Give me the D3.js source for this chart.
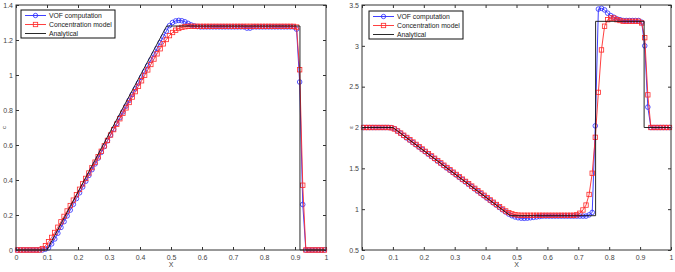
<!DOCTYPE html>
<html>
<head>
<meta charset="utf-8">
<script src="https://cdn.jsdelivr.net/npm/d3@7"></script>
<style>
  body { margin: 0; background: #fff; }
  svg { display: block; font-family: "Liberation Sans", Arial, sans-serif; }
</style>
</head>
<body>
<svg width="675" height="272"></svg>
<script>
// cell centres shared by both panels
const xGrid = [0.005,0.015,0.025,0.035,0.045,0.055,0.065,0.075,0.085,0.095,
  0.105,0.115,0.125,0.135,0.145,0.155,0.165,0.175,0.185,0.195,
  0.205,0.215,0.225,0.235,0.245,0.255,0.265,0.275,0.285,0.295,
  0.305,0.315,0.325,0.335,0.345,0.355,0.365,0.375,0.385,0.395,
  0.405,0.415,0.425,0.435,0.445,0.455,0.465,0.475,0.485,0.495,
  0.505,0.515,0.525,0.535,0.545,0.555,0.565,0.575,0.585,0.595,
  0.605,0.615,0.625,0.635,0.645,0.655,0.665,0.675,0.685,0.695,
  0.705,0.715,0.725,0.735,0.745,0.755,0.765,0.775,0.785,0.795,
  0.805,0.815,0.825,0.835,0.845,0.855,0.865,0.875,0.885,0.895,
  0.905,0.915,0.925,0.935,0.945,0.955,0.965,0.975,0.985,0.995];

// left panel
const leftVof = [0,0,0,0,0,0,0,0,0,0.005,
  0.012,0.035,0.063,0.096,0.129,0.162,0.195,0.228,0.261,0.294,
  0.327,0.360,0.393,0.426,0.459,0.492,0.525,0.558,0.591,0.624,
  0.657,0.690,0.723,0.756,0.789,0.822,0.855,0.888,0.921,0.954,
  0.987,1.020,1.053,1.086,1.119,1.152,1.185,1.218,1.250,1.282,
  1.300,1.309,1.312,1.310,1.304,1.295,1.286,1.280,1.277,1.275,
  1.275,1.275,1.275,1.275,1.275,1.275,1.275,1.275,1.275,1.275,
  1.275,1.275,1.275,1.275,1.268,1.268,1.275,1.275,1.275,1.275,
  1.275,1.275,1.275,1.275,1.275,1.275,1.275,1.275,1.275,1.275,
  1.262,0.96,0.26,0,0,0,0,0,0,0];
const leftConc = [0,0,0,0,0,0,0,0,0.008,0.025,
  0.047,0.072,0.100,0.130,0.161,0.192,0.223,0.254,0.285,0.316,
  0.347,0.378,0.409,0.440,0.471,0.502,0.533,0.564,0.595,0.626,
  0.657,0.688,0.719,0.750,0.781,0.812,0.843,0.874,0.905,0.936,
  0.967,0.998,1.029,1.060,1.091,1.121,1.150,1.178,1.203,1.225,
  1.243,1.256,1.266,1.272,1.276,1.278,1.278,1.278,1.278,1.278,
  1.278,1.278,1.278,1.278,1.278,1.278,1.278,1.278,1.278,1.278,
  1.278,1.278,1.278,1.278,1.278,1.278,1.278,1.278,1.278,1.278,
  1.278,1.278,1.278,1.278,1.278,1.278,1.278,1.278,1.278,1.278,
  1.274,1.03,0.37,0,0,0,0,0,0,0];
const leftExactX = [0, 0.1, 0.486, 0.916, 0.916, 1];
const leftExactY = [0, 0, 1.28, 1.28, 0, 0];

// right panel
const rightVof = [2,2,2,2,2,2,2,2,2,1.998,
  1.985,1.958,1.930,1.900,1.872,1.844,1.815,1.787,1.759,1.730,
  1.702,1.673,1.645,1.617,1.588,1.560,1.531,1.503,1.475,1.446,
  1.418,1.389,1.361,1.333,1.304,1.276,1.247,1.219,1.191,1.162,
  1.134,1.105,1.077,1.049,1.020,0.992,0.965,0.940,0.920,0.905,
  0.895,0.890,0.888,0.890,0.895,0.900,0.905,0.910,0.915,0.915,
  0.915,0.915,0.915,0.915,0.915,0.915,0.915,0.915,0.915,0.915,
  0.915,0.915,0.915,0.930,0.960,2.02,3.45,3.46,3.44,3.40,
  3.37,3.35,3.33,3.32,3.31,3.31,3.31,3.31,3.31,3.31,
  3.29,3.0,2.25,2,2,2,2,2,2,2];
const rightConc = [2,2,2,2,2,2,2,2,2,1.996,
  1.982,1.957,1.932,1.905,1.878,1.850,1.822,1.793,1.765,1.737,
  1.708,1.680,1.652,1.623,1.595,1.567,1.538,1.510,1.482,1.453,
  1.425,1.397,1.368,1.340,1.312,1.283,1.255,1.227,1.198,1.170,
  1.142,1.113,1.085,1.057,1.029,1.002,0.978,0.958,0.943,0.933,
  0.927,0.925,0.925,0.925,0.925,0.925,0.925,0.925,0.925,0.925,
  0.925,0.925,0.925,0.925,0.925,0.925,0.925,0.925,0.925,0.930,
  0.950,0.990,1.05,1.18,1.44,1.88,2.43,2.95,3.24,3.32,
  3.34,3.34,3.32,3.31,3.30,3.30,3.30,3.30,3.30,3.30,
  3.28,3.1,2.4,2,2,2,2,2,2,2];
const rightExactX = [0, 0.1, 0.48, 0.756, 0.756, 0.913, 0.913, 1];
const rightExactY = [2, 2, 0.92, 0.92, 3.3, 3.3, 2, 2];

const xTicks = [0,0.1,0.2,0.3,0.4,0.5,0.6,0.7,0.8,0.9,1];
const leftYTicks = [0,0.2,0.4,0.6,0.8,1,1.2,1.4];
const rightYTicks = [0.5,1,1.5,2,2.5,3,3.5];
const legendNames = ["VOF computation", "Concentration model", "Analytical"];

const blue = "#2a2aff";
const red = "#ff2a2a";
const axisCol = "#333";

const svg = d3.select("svg");

function zip(xs, ys) { return xs.map((x, i) => [x, ys[i]]); }

function drawPanel(opt) {
  const x = d3.scaleLinear().domain([0, 1]).range([opt.left, opt.right]);
  const y = d3.scaleLinear().domain(opt.yDomain).range([opt.bottom, opt.top]);
  const g = svg.append("g");

  // ticks inside the box, on all four sides
  const styleAxis = (a) => {
    a.select(".domain").remove();
    a.selectAll("line").attr("stroke", axisCol);
    a.selectAll("text").attr("fill", "#444").style("font-size", "7px");
  };
  g.append("g").attr("transform", `translate(0,${opt.bottom})`)
    .call(d3.axisBottom(x).tickValues(xTicks).tickSize(-3).tickPadding(5).tickFormat(d3.format("")))
    .call(styleAxis);
  g.append("g").attr("transform", `translate(0,${opt.top})`)
    .call(d3.axisTop(x).tickValues(xTicks).tickSize(-3).tickFormat(""))
    .call(styleAxis);
  g.append("g").attr("transform", `translate(${opt.left},0)`)
    .call(d3.axisLeft(y).tickValues(opt.yTicks).tickSize(-3).tickPadding(3).tickFormat(d3.format("")))
    .call(styleAxis);
  g.append("g").attr("transform", `translate(${opt.right},0)`)
    .call(d3.axisRight(y).tickValues(opt.yTicks).tickSize(-3).tickFormat(""))
    .call(styleAxis);

  const line = d3.line().x(d => x(d[0])).y(d => y(d[1]));
  const vof = zip(xGrid, opt.vof);
  const conc = zip(xGrid, opt.conc);

  g.append("path").datum(vof).attr("d", line)
    .attr("fill", "none").attr("stroke", blue).attr("stroke-width", 0.9);
  g.selectAll(".vof").data(vof).join("circle").attr("class", "vof")
    .attr("cx", d => x(d[0])).attr("cy", d => y(d[1])).attr("r", 2.3)
    .attr("fill", "none").attr("stroke", blue).attr("stroke-width", 0.8);

  g.append("path").datum(conc).attr("d", line)
    .attr("fill", "none").attr("stroke", red).attr("stroke-width", 0.9);
  g.selectAll(".conc").data(conc).join("rect").attr("class", "conc")
    .attr("x", d => x(d[0]) - 2.2).attr("y", d => y(d[1]) - 2.2)
    .attr("width", 4.4).attr("height", 4.4)
    .attr("fill", "none").attr("stroke", red).attr("stroke-width", 0.8);

  g.append("path").datum(zip(opt.exactX, opt.exactY)).attr("d", line)
    .attr("fill", "none").attr("stroke", "#111").attr("stroke-width", 0.9);

  // box
  g.append("rect").attr("x", opt.left).attr("y", opt.top)
    .attr("width", opt.right - opt.left).attr("height", opt.bottom - opt.top)
    .attr("fill", "none").attr("stroke", axisCol).attr("stroke-width", 1);

  // axis titles
  g.append("text").attr("x", (opt.left + opt.right) / 2).attr("y", opt.bottom + 17)
    .attr("text-anchor", "middle").attr("fill", "#444").style("font-size", "7px").text("X");
  g.append("text")
    .attr("transform", `translate(${opt.yTitleX},${(opt.top + opt.bottom) / 2}) rotate(-90)`)
    .attr("text-anchor", "middle").attr("fill", "#444").style("font-size", "6px").text(opt.yTitle);

  // legend
  const lg = g.append("g").attr("transform", `translate(${opt.legX},${opt.legY})`);
  lg.append("rect").attr("width", opt.legW).attr("height", 28)
    .attr("fill", "#fff").attr("stroke", "#111").attr("stroke-width", 1);
  const cols = [blue, red, "#111"];
  legendNames.forEach((name, i) => {
    const yy = 5.5 + i * 9;
    lg.append("line").attr("x1", 4).attr("x2", 25).attr("y1", yy).attr("y2", yy)
      .attr("stroke", cols[i]).attr("stroke-width", 0.9);
    if (i === 0) {
      lg.append("circle").attr("cx", 14.5).attr("cy", yy).attr("r", 2.2)
        .attr("fill", "none").attr("stroke", blue).attr("stroke-width", 0.8);
    } else if (i === 1) {
      lg.append("rect").attr("x", 12.3).attr("y", yy - 2.2).attr("width", 4.4).attr("height", 4.4)
        .attr("fill", "none").attr("stroke", red).attr("stroke-width", 0.8);
    }
    lg.append("text").attr("x", 28).attr("y", yy + 2.5)
      .attr("fill", "#222").style("font-size", "6.8px").text(name);
  });
}

drawPanel({
  left: 16, right: 326, top: 5, bottom: 250,
  yDomain: [0, 1.4], yTicks: leftYTicks,
  vof: leftVof, conc: leftConc, exactX: leftExactX, exactY: leftExactY,
  yTitle: "c", yTitleX: 6,
  legX: 21, legY: 10, legW: 94
});
drawPanel({
  left: 362, right: 671, top: 5, bottom: 250,
  yDomain: [0.5, 3.5], yTicks: rightYTicks,
  vof: rightVof, conc: rightConc, exactX: rightExactX, exactY: rightExactY,
  yTitle: "ε", yTitleX: 353,
  legX: 369, legY: 11, legW: 94
});
</script>
</body>
</html>
